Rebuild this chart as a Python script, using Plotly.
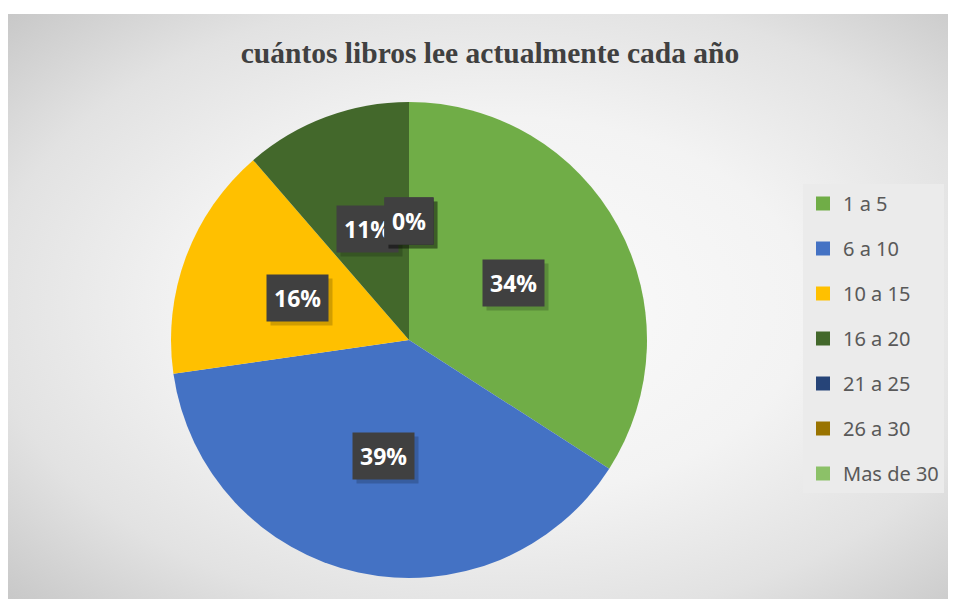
import math, base64
import plotly.graph_objects as go

categories = ["1 a 5", "6 a 10", "10 a 15", "16 a 20", "21 a 25", "26 a 30", "Mas de 30"]
counts = [15, 17, 7, 5, 0, 0, 0]
colors = ["#70AD47", "#4472C4", "#FFC000", "#43682B", "#264478", "#997300", "#8CC168"]
title_text = "cuántos libros lee actualmente cada año"

OFF = 8  # page body margin
W, H = 956 - OFF, 599 - OFF


def fx(px):
    return (px - OFF) / W


def fy(py):
    return 1 - (py - OFF) / H


cx_px, cy_px, R_px = 409, 340, 238

fig = go.Figure()

bw, bh = 956 - 7, 599 - 14
svg = f'''<svg xmlns="http://www.w3.org/2000/svg" width="{bw}" height="{bh}" viewBox="0 0 {bw} {bh}" preserveAspectRatio="none">
<defs><radialGradient id="g" cx="0.52" cy="0.5" r="0.72" gradientUnits="objectBoundingBox">
<stop offset="0" stop-color="#fbfbfb"/><stop offset="0.45" stop-color="#f3f3f3"/><stop offset="0.75" stop-color="#e2e2e2"/><stop offset="1" stop-color="#c8c8c8"/>
</radialGradient></defs><rect width="{bw}" height="{bh}" fill="url(#g)"/></svg>'''
src = "data:image/svg+xml;base64," + base64.b64encode(svg.encode()).decode()
fig.add_layout_image(dict(source=src, xref="paper", yref="paper", x=fx(7), y=fy(14),
                          sizex=bw / W, sizey=bh / H, xanchor="left", yanchor="top",
                          sizing="stretch", layer="below"))

fig.add_shape(type="rect", xref="paper", yref="paper", x0=0, x1=1, y0=fy(14), y1=1,
              fillcolor="white", line=dict(width=0), layer="below")

fig.add_trace(go.Pie(
    labels=categories, values=counts, sort=False, direction="clockwise", rotation=0,
    marker=dict(colors=colors, line=dict(width=0)),
    textinfo="none", hoverinfo="label+percent", showlegend=False,
    domain=dict(x=[fx(cx_px - R_px), fx(cx_px + R_px)],
                y=[fy(cy_px + R_px), fy(cy_px - R_px)]),
))

for cat, col in zip(categories, colors):
    fig.add_trace(go.Scatter(x=[None], y=[None], mode="markers", name=cat, legendgroup=cat,
                             marker=dict(symbol="square", size=14, color=col)))

total = sum(counts)
cum = 0
for v in counts:
    mid = (cum + v / 2) / total * 2 * math.pi
    cum += v
    pct = round(100 * v / total)
    px = cx_px + 0.5 * R_px * math.sin(mid)
    py = cy_px - 0.5 * R_px * math.cos(mid)
    ax, ay = fx(px), fy(py)
    fig.add_annotation(x=ax, y=ay, xref="paper", yref="paper", text=f"<b>{pct}%</b>",
                       showarrow=False, xshift=4, yshift=-4, xanchor="center", yanchor="middle",
                       font=dict(family="Open Sans", size=23, color="rgba(0,0,0,0)"),
                       bgcolor="rgba(0,0,0,0.18)", borderpad=7)
    fig.add_annotation(x=ax, y=ay, xref="paper", yref="paper", text=f"<b>{pct}%</b>",
                       showarrow=False, xanchor="center", yanchor="middle",
                       font=dict(family="Open Sans", size=23, color="white"),
                       bgcolor="#404040", borderpad=7)

fig.update_layout(
    width=W, height=H, margin=dict(l=0, r=0, t=0, b=0),
    paper_bgcolor="#d8d8d8", plot_bgcolor="rgba(0,0,0,0)",
    xaxis=dict(visible=False), yaxis=dict(visible=False),
    title=dict(text=f"<b>{title_text}</b>", x=fx(490), xanchor="center", y=fy(53), yanchor="middle",
               font=dict(family="Liberation Serif", size=29.5, color="#404040")),
    legend=dict(x=fx(803), y=fy(184), xanchor="left", yanchor="top",
                bgcolor="#ebebeb", font=dict(family="Noto Sans", size=20, color="#595959"),
                tracegroupgap=16, itemwidth=30),
    showlegend=True,
)

fig.write_html("out.html")
